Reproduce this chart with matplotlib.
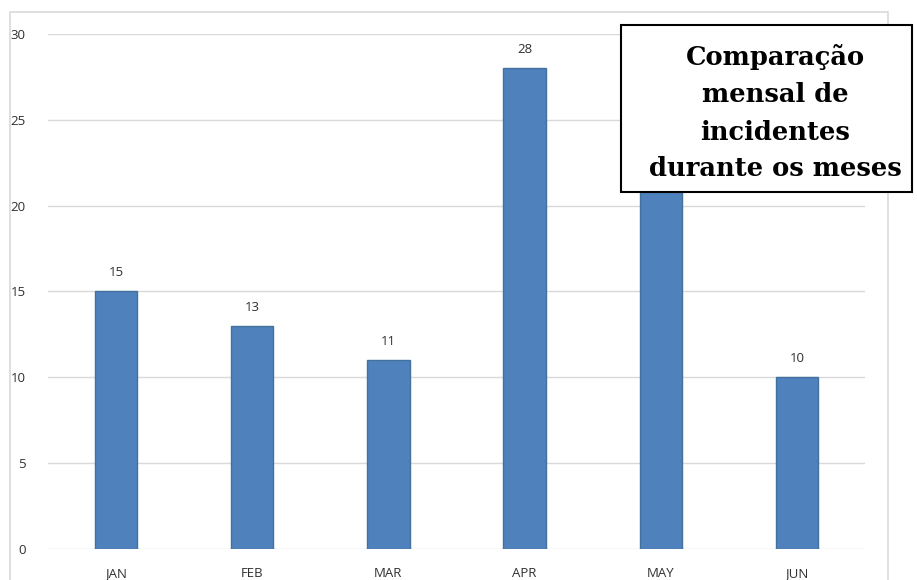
import matplotlib.pyplot as plt
from matplotlib.patches import Rectangle

months = ["JAN", "FEB", "MAR", "APR", "MAY", "JUN"]
incidents = [15, 13, 11, 28, 24, 10]
shown_labels = [True, True, True, True, False, True]

plt.rcParams['font.family'] = ['Open Sans', 'DejaVu Sans']

fig = plt.figure(figsize=(9.17, 5.80), dpi=100)
ax = fig.add_axes([48 / 917, 31 / 580, 817 / 917, 515 / 580])

# outer chart frame
fig.patches.append(Rectangle((10 / 917, -0.05), 878 / 917, 1.05 - 12 / 580,
                             transform=fig.transFigure, fill=False,
                             edgecolor='#D9D9D9', linewidth=1.2))

x = range(len(months))
bars = ax.bar(x, incidents, width=0.31, color='#4F81BD', edgecolor='#41719C',
              linewidth=1, zorder=3)

for b, v, show in zip(bars, incidents, shown_labels):
    if show:
        ax.text(b.get_x() + b.get_width() / 2, v + 0.7, str(v),
                ha='center', va='bottom', fontsize=9.5, color='#303030')

ax.set_xlim(-0.5, len(months) - 0.5)
ax.set_ylim(0, 30)
ax.set_yticks(range(0, 31, 5))
ax.set_xticks(list(x))
ax.set_xticklabels(months)
ax.grid(axis='y', color='#D9D9D9', linewidth=1, zorder=0)
for s in ax.spines.values():
    s.set_visible(False)
ax.tick_params(length=0, labelsize=9.5, labelcolor='#303030')
ax.tick_params(axis='y', pad=16)
ax.tick_params(axis='x', pad=13)

# title box
fig.patches.append(Rectangle((621 / 917, 1 - 192 / 580), 291 / 917, 167 / 580,
                             transform=fig.transFigure, facecolor='white',
                             edgecolor='black', linewidth=1.5, zorder=5))
fig.text(775 / 917, 1 - 113 / 580,
         "Comparação\nmensal de\nincidentes\ndurante os meses",
         ha='center', va='center', fontsize=18.5, fontweight='bold',
         family='DejaVu Serif', linespacing=1.6, zorder=6)

fig.savefig('out.png', dpi=100)
